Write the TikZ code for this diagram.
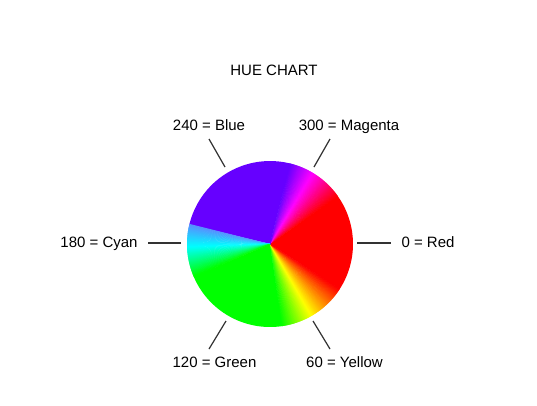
\documentclass[tikz,border=0pt]{standalone}
\usepackage{fontspec}
\setmainfont{Liberation Sans}
\definecolor{hpurple}{RGB}{102,0,255}
\definecolor{hmag}{RGB}{255,0,255}
\definecolor{hred}{RGB}{255,0,0}
\definecolor{hyel}{RGB}{255,255,0}
\definecolor{hgreen}{RGB}{0,255,0}
\definecolor{hcyan}{RGB}{0,255,255}
\definecolor{hazure}{RGB}{90,140,255}
\definecolor{tickgray}{RGB}{50,50,50}
\tikzset{
  lbl/.style={anchor=base, inner sep=0pt, font=\fontsize{15}{18}\selectfont},
  tick/.style={draw=tickgray, line width=1.2pt}
}
\begin{document}
\begin{tikzpicture}[x=1pt, y=-1pt]
\useasboundingbox (0,0) rectangle (537,405);
\fill[white] (0,0) rectangle (537,405);
% wheel
\begin{scope}[shift={(270,244)}, yscale=-1]
\foreach \a/\b/\ca/\cb/\n in {203/278/hgreen/hgreen/1, 278/300/hgreen/hyel/44, 300/327/hyel/hred/54, 327/395/hred/hred/1, 35/59/hred/hmag/48, 59/76/hmag/hpurple/34, 76/166/hpurple/hpurple/1, 166/182/hazure/hcyan/32, 182/203/hcyan/hgreen/42}{
  \pgfmathsetmacro{\dd}{(\b)-(\a)}
  \foreach \i in {1,...,\n}{
    \pgfmathsetmacro{\sa}{\a+(\i-1)*\dd/\n}
    \pgfmathsetmacro{\sb}{\a+\i*\dd/\n+0.4}
    \pgfmathtruncatemacro{\p}{round((\i-0.5)/\n*100)}
    \fill[\cb!\p!\ca] (0,0) -- (\sa:83) arc[start angle=\sa, end angle=\sb, radius=83] -- cycle;
  }
}
\end{scope}
% labels
\node[lbl] (title) at (274,75) {HUE CHART};
\node[lbl] (blue) at (209,130.5) {240 = Blue};
\node[lbl] (magenta) at (349,130.5) {300 = Magenta};
\node[lbl] (cyan) at (99,247.5) {180 = Cyan};
\node[lbl] (red) at (428,247.5) {0 = Red};
\node[lbl] (green) at (214.5,367) {120 = Green};
\node[lbl] (yellow) at (344.5,367) {60 = Yellow};
% tick coordinates
\coordinate (rA) at (357,243); \coordinate (rB) at (391,243);
\coordinate (cA) at (181,243); \coordinate (cB) at (148,243);
\coordinate (bA) at (225,167); \coordinate (bB) at (209,139);
\coordinate (mA) at (314,167); \coordinate (mB) at (330,139);
\coordinate (gA) at (226,321); \coordinate (gB) at (209,349);
\coordinate (yA) at (313,321); \coordinate (yB) at (330,349);
\draw[tick] (rA) -- (rB);
\draw[tick] (cA) -- (cB);
\draw[tick] (bA) -- (bB);
\draw[tick] (mA) -- (mB);
\draw[tick] (gA) -- (gB);
\draw[tick] (yA) -- (yB);
\end{tikzpicture}
\end{document}
